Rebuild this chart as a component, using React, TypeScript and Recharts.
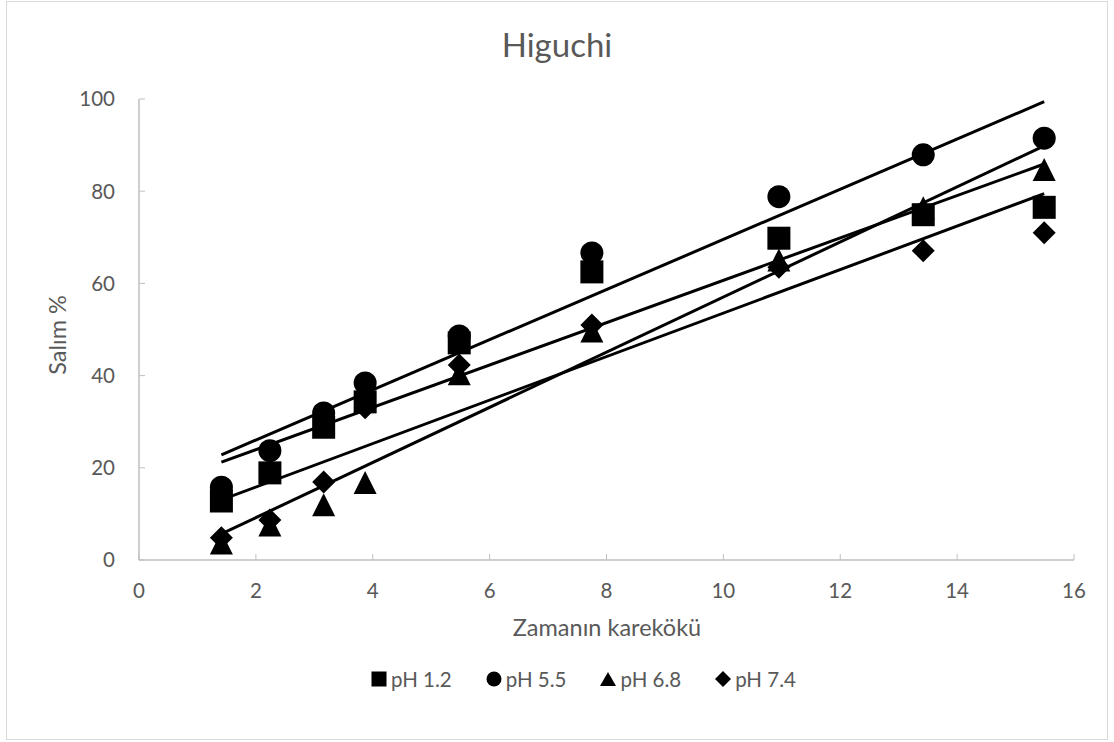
import React from 'react';
import { ScatterChart, Scatter, XAxis, YAxis, ReferenceLine } from 'recharts';

// square root of time (x) values
const xValues = [1.41, 2.24, 3.16, 3.87, 5.48, 7.75, 10.95, 13.42, 15.49];
const seriesNames = ['pH 1.2', 'pH 5.5', 'pH 6.8', 'pH 7.4'];
const ph12 = [12.8, 18.9, 28.8, 34.3, 47.1, 62.5, 69.8, 74.9, 76.5];
const ph55 = [15.8, 23.7, 31.9, 38.4, 48.6, 66.6, 78.8, 87.9, 91.5];
const ph68 = [3.7, 7.6, 12.0, 16.8, 40.4, 49.7, 65.1, 76.4, 84.7];
const ph74 = [4.8, 8.7, 16.9, 33.0, 42.3, 51.0, 63.5, 67.1, 71.0];
const xTicks = [0, 2, 4, 6, 8, 10, 12, 14, 16];
const yTicks = [0, 20, 40, 60, 80, 100];

const FONT = 'Lato, "Open Sans", sans-serif';
const TEXT = '#595959';
const AXIS = '#bfbfbf';

const toPoints = (ys: number[]) => xValues.map((x, i) => ({ x, y: ys[i] }));

// linear least-squares trendline over the data's x range (like Excel's trendline)
const trend = (ys: number[]) => {
  const n = xValues.length;
  const mx = xValues.reduce((a, b) => a + b, 0) / n;
  const my = ys.reduce((a, b) => a + b, 0) / n;
  let sxy = 0;
  let sxx = 0;
  xValues.forEach((x, i) => {
    sxy += (x - mx) * (ys[i] - my);
    sxx += (x - mx) * (x - mx);
  });
  const b = sxy / sxx;
  const a = my - b * mx;
  const x0 = Math.min(...xValues);
  const x1 = Math.max(...xValues);
  return [
    { x: x0, y: a + b * x0 },
    { x: x1, y: a + b * x1 },
  ];
};

const H = 11.5;
const SquareShape = (p: any) => (
  <rect x={p.cx - H} y={p.cy - H} width={2 * H} height={2 * H} fill="#000" />
);
const CircleShape = (p: any) => <circle cx={p.cx} cy={p.cy} r={H} fill="#000" />;
const TriangleShape = (p: any) => (
  <polygon
    points={`${p.cx},${p.cy - H} ${p.cx + H},${p.cy + H} ${p.cx - H},${p.cy + H}`}
    fill="#000"
  />
);
const DiamondShape = (p: any) => (
  <polygon
    points={`${p.cx},${p.cy - H} ${p.cx + H},${p.cy} ${p.cx},${p.cy + H} ${p.cx - H},${p.cy}`}
    fill="#000"
  />
);

const XTick = (props: any) => {
  const { x, y, payload } = props;
  return (
    <g>
      <line x1={x} x2={x} y1={y} y2={y - 6} stroke={AXIS} strokeWidth={1} />
      <text x={x} y={y + 37.5} textAnchor="middle" fill={TEXT} fontSize={20.5} fontFamily={FONT}>
        {payload.value}
      </text>
    </g>
  );
};

const YTick = (props: any) => {
  const { x, y, payload } = props;
  return (
    <g>
      <line x1={x} x2={x + 6} y1={y} y2={y} stroke={AXIS} strokeWidth={1} />
      <text x={x - 24} y={y + 7.3} textAnchor="end" fill={TEXT} fontSize={20.5} fontFamily={FONT}>
        {payload.value}
      </text>
    </g>
  );
};

const series = [
  { name: seriesNames[0], data: ph12, shape: SquareShape, icon: 'square' },
  { name: seriesNames[1], data: ph55, shape: CircleShape, icon: 'circle' },
  { name: seriesNames[2], data: ph68, shape: TriangleShape, icon: 'triangle' },
  { name: seriesNames[3], data: ph74, shape: DiamondShape, icon: 'diamond' },
];

const LegendIcon = ({ type }: { type: string }) => {
  const s = 16;
  const h = s / 2;
  let el: any = null;
  if (type === 'square') el = <rect x={0.5} y={0.5} width={15} height={15} fill="#000" />;
  if (type === 'circle') el = <circle cx={h} cy={h} r={7.5} fill="#000" />;
  if (type === 'triangle') el = <polygon points={`${h},1 16,15 0,15`} fill="#000" />;
  if (type === 'diamond') el = <polygon points={`${h},0 16,${h} ${h},16 0,${h}`} fill="#000" />;
  return (
    <svg width={s} height={s} style={{ display: 'block' }}>
      {el}
    </svg>
  );
};

export default function App() {
  return (
    <div style={{ position: 'absolute', left: 0, top: 0, width: 1114, height: 742, background: '#fff' }}>
      <div
        style={{
          position: 'absolute',
          left: 6,
          top: 1,
          width: 1102,
          height: 739,
          border: '1px solid #d9d9d9',
          boxSizing: 'border-box',
        }}
      />
      <div style={{ position: 'absolute', left: 0, top: 0 }}>
        <ScatterChart width={1114} height={742} margin={{ top: 99, right: 40, bottom: 152, left: 79 }}>
          <XAxis
            type="number"
            dataKey="x"
            domain={[0, 16]}
            ticks={xTicks}
            interval={0}
            tickLine={false}
            tickSize={0}
            tickMargin={0}
            height={30}
            axisLine={{ stroke: AXIS, strokeWidth: 1.5 }}
            tick={<XTick />}
          />
          <YAxis
            type="number"
            dataKey="y"
            domain={[0, 100]}
            ticks={yTicks}
            interval={0}
            tickLine={false}
            tickSize={0}
            tickMargin={0}
            width={60}
            axisLine={{ stroke: AXIS, strokeWidth: 1.5 }}
            tick={<YTick />}
          />
          {series.map((s) => (
            <Scatter
              key={s.name}
              name={s.name}
              data={toPoints(s.data)}
              shape={s.shape}
              fill="#000"
              isAnimationActive={false}
            />
          ))}
          {series.map((s) => (
            <ReferenceLine
              key={'t' + s.name}
              segment={trend(s.data)}
              stroke="#000"
              strokeWidth={3}
              ifOverflow="visible"
            />
          ))}
        </ScatterChart>
      </div>
      <svg
        width={1114}
        height={742}
        style={{ position: 'absolute', left: 0, top: 0, pointerEvents: 'none' }}
      >
        <text x={557} y={57} textAnchor="middle" fill={TEXT} fontSize={33} fontFamily={FONT}>
          Higuchi
        </text>
        <text x={607} y={636} textAnchor="middle" fill={TEXT} fontSize={23.5} fontFamily={FONT}>
          Zamanın karekökü
        </text>
        <text
          x={0}
          y={0}
          transform="translate(66,335) rotate(-90)"
          textAnchor="middle"
          fill={TEXT}
          fontSize={23.5}
          fontFamily={FONT}
        >
          Salım %
        </text>
      </svg>
      <div
        style={{
          position: 'absolute',
          left: 371,
          top: 665,
          display: 'flex',
          alignItems: 'center',
          gap: 34,
          fontFamily: FONT,
          fontSize: 20.5,
          color: TEXT,
          lineHeight: '28px',
          whiteSpace: 'nowrap',
        }}
      >
        {series.map((s) => (
          <div key={'l' + s.name} style={{ display: 'flex', alignItems: 'center', gap: 4 }}>
            <LegendIcon type={s.icon} />
            <span>{s.name}</span>
          </div>
        ))}
      </div>
    </div>
  );
}
